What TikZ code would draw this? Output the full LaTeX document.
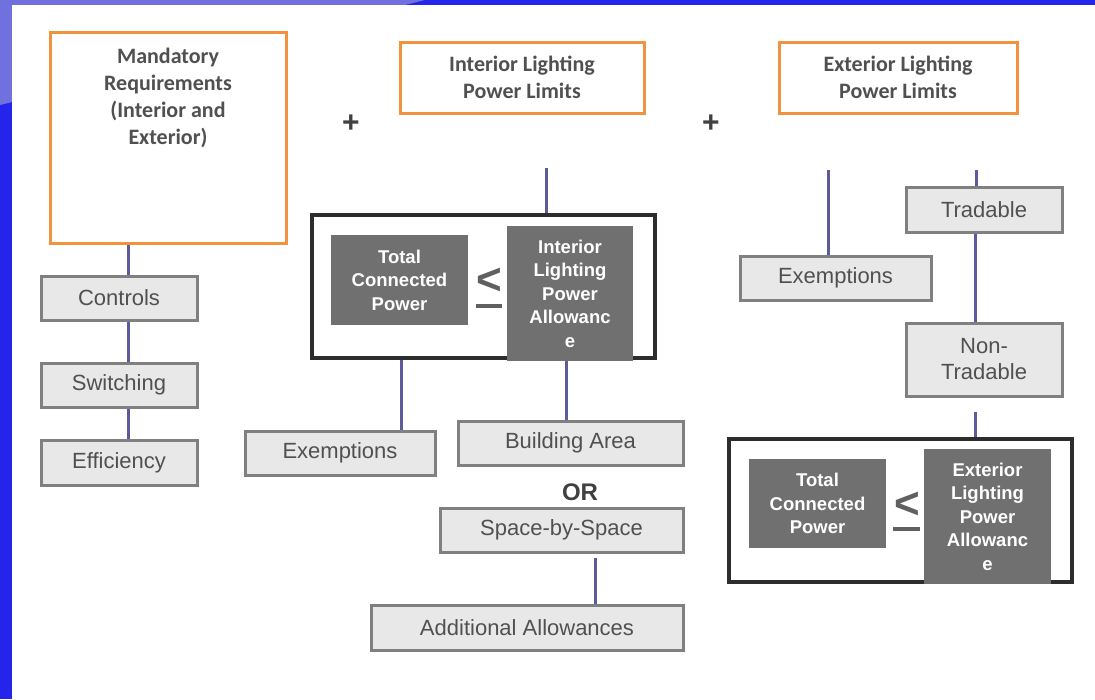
\documentclass[tikz,border=0pt]{standalone}
\usepackage{fontspec}
\setmainfont{Liberation Sans}
\newfontfamily\carlito{Carlito}
\definecolor{bgblue}{RGB}{36,36,235}
\definecolor{bgpurple}{RGB}{112,112,222}
\definecolor{orng}{RGB}{240,146,62}
\definecolor{boxfill}{RGB}{232,232,232}
\definecolor{boxedge}{RGB}{128,128,128}
\definecolor{txtgray}{RGB}{80,80,80}
\definecolor{darkfill}{RGB}{112,112,112}
\definecolor{conn}{RGB}{92,92,156}
\definecolor{frameclr}{RGB}{45,45,45}
\definecolor{signclr}{RGB}{96,96,96}
\tikzset{
  gbox/.style={draw=boxedge, fill=boxfill, line width=3pt, inner sep=0pt, text=txtgray,
    font=\fontsize{22}{26}\selectfont, align=center},
  obox/.style={draw=orng, line width=3pt, inner sep=0pt, fill=white},
  otext/.style={font=\carlito\bfseries\fontsize{22}{27}\selectfont, text=txtgray, align=center, inner sep=0pt},
  dbox/.style={fill=darkfill, inner sep=0pt, text=white,
    font=\bfseries\fontsize{18.5}{23.5}\selectfont, align=center},
  frm/.style={draw=frameclr, line width=4pt, inner sep=0pt},
  link/.style={draw=conn, line width=3pt},
  sign/.style={font=\bfseries\fontsize{44}{44}\selectfont, text=signclr, inner sep=0pt},
  signbar/.style={draw=signclr, line width=4.5pt},
  plus/.style={font=\bfseries\fontsize{30}{30}\selectfont, text=txtgray!80!black, inner sep=0pt},
  ortext/.style={font=\bfseries\fontsize{24}{24}\selectfont, text=txtgray!80!black, inner sep=0pt}
}
\begin{document}
\begin{tikzpicture}[x=1pt,y=-1pt]
\useasboundingbox (0,0) rectangle (1095,699);
% slide background
\fill[bgblue] (0,0) rectangle (1095,699);
\fill[bgpurple] (0,0) -- (425,0) -- (0,105) -- cycle;
\fill[white] (12,5) rectangle (1095,699);

% top-level orange boxes
\node[obox, minimum width=236pt, minimum height=211pt] (mand) at (168,137.5) {};
\node[otext] (mandtxt) at (168,98) {Mandatory\\Requirements\\(Interior and\\Exterior)};
\node[obox, otext, minimum width=244pt, minimum height=71pt] (intl) at (522,77.5) {Interior Lighting\\Power Limits};
\node[obox, otext, minimum width=238pt, minimum height=71pt] (extl) at (898,77.5) {Exterior Lighting\\Power Limits};
\node[plus] (plus1) at (351,124) {+};
\node[plus] (plus2) at (711,124) {+};

% mandatory branch
\node[gbox, minimum width=156pt, minimum height=44pt] (ctrl) at (119,298) {Controls};
\node[gbox, minimum width=156pt, minimum height=44pt] (swit) at (119,385) {Switching};
\node[gbox, minimum width=156pt, minimum height=45pt] (effi) at (119,462.5) {Efficiency};
\coordinate (mx) at (128,0);
\draw[link] (mx |- mand.south) -- (mx |- ctrl.north);
\draw[link] (mx |- ctrl.south) -- (mx |- swit.north);
\draw[link] (mx |- swit.south) -- (mx |- effi.north);

% interior branch
\node[frm, minimum width=343pt, minimum height=143pt] (ifrm) at (483.5,286.5) {};
\node[dbox, minimum width=137pt, minimum height=90pt] (itcp) at (399.5,280) {Total\\Connected\\Power};
\node[dbox, minimum width=126pt, minimum height=135pt] (ilpa) at (570,293.5) {Interior\\Lighting\\Power\\Allowanc\\e};
\node[sign] (ile) at (489.5,281) {<};
\coordinate (ibarl) at (476,306);
\coordinate (ibarr) at (502,306);
\draw[signbar] (ibarl) -- (ibarr);
\coordinate (itop) at (546,168);
\draw[link] (itop) -- (itop |- ifrm.north);

\node[gbox, minimum width=190pt, minimum height=44pt] (iex) at (340,453) {Exemptions};
\node[gbox, minimum width=225pt, minimum height=44pt] (bldg) at (570.5,443) {Building Area};
\node[ortext] (or) at (580,492) {OR};
\node[gbox, minimum width=243pt, minimum height=44pt] (sbs) at (561.5,530) {Space-by-Space};
\node[gbox, minimum width=312pt, minimum height=45pt] (addl) at (527,627.5) {Additional Allowances};
\coordinate (ix1) at (401,0);
\draw[link] (ix1 |- ifrm.south) -- (ix1 |- iex.north);
\coordinate (ix2) at (566,0);
\draw[link] (ix2 |- ilpa.south) -- (ix2 |- bldg.north);
\coordinate (sbsb) at (595,558);
\draw[link] (sbsb) -- (sbsb |- addl.north);

% exterior branch
\node[gbox, minimum width=191pt, minimum height=44pt] (eex) at (835.5,278) {Exemptions};
\node[gbox, minimum width=156pt, minimum height=45pt] (trad) at (984,209.5) {Tradable};
\node[gbox, minimum width=156pt, minimum height=73pt] (ntrad) at (984,359.5) {Non-\\Tradable};
\coordinate (etop1) at (828,170);
\draw[link] (etop1) -- (etop1 |- eex.north);
\coordinate (etop2) at (976,170);
\draw[link] (etop2) -- (etop2 |- trad.north);
\coordinate (ex3) at (975,0);
\draw[link] (ex3 |- trad.south) -- (ex3 |- ntrad.north);

\node[frm, minimum width=343pt, minimum height=143pt] (efrm) at (900.5,510.5) {};
\node[dbox, minimum width=137pt, minimum height=89pt] (etcp) at (817.5,503.5) {Total\\Connected\\Power};
\node[dbox, minimum width=127pt, minimum height=135pt] (elpa) at (987.5,516.5) {Exterior\\Lighting\\Power\\Allowanc\\e};
\node[sign] (ele) at (907,505) {<};
\coordinate (ebarl) at (893,529);
\coordinate (ebarr) at (920,529);
\draw[signbar] (ebarl) -- (ebarr);
\coordinate (ebot) at (975,412);
\draw[link] (ebot) -- (ebot |- efrm.north);
\end{tikzpicture}
\end{document}
